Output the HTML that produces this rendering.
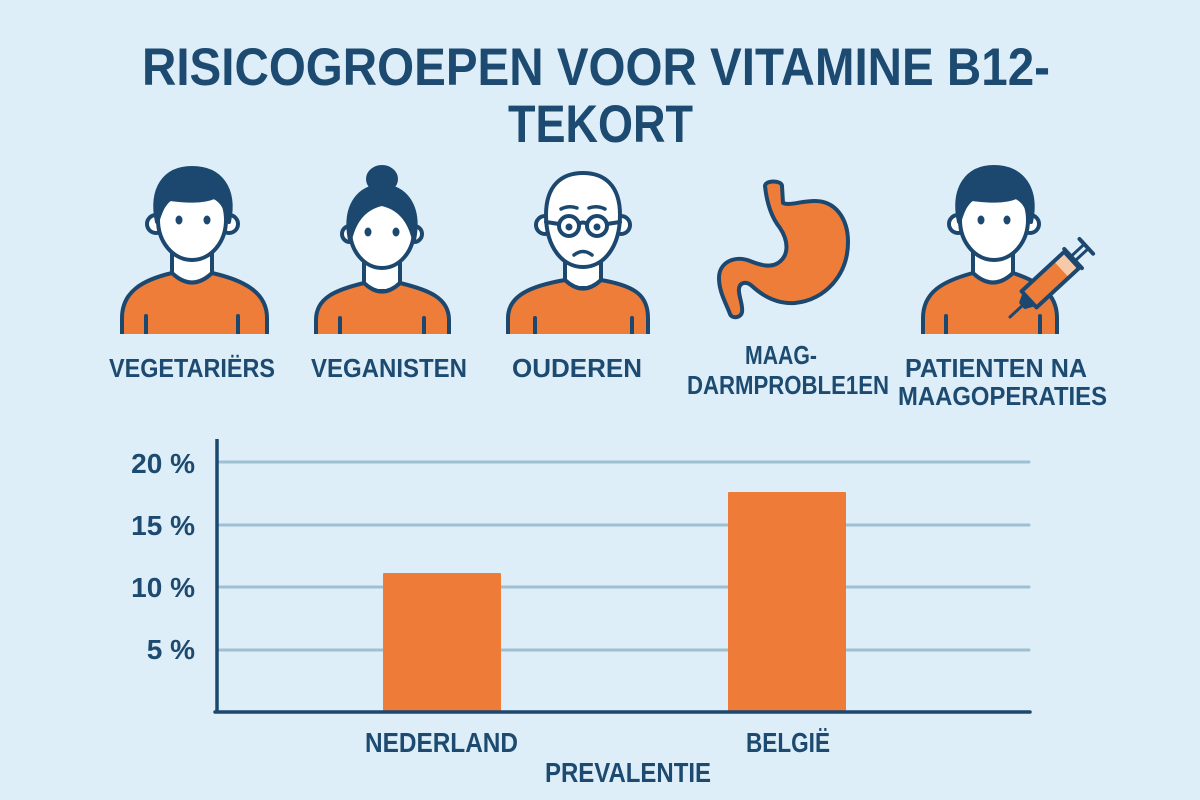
<!DOCTYPE html>
<html>
<head>
<meta charset="utf-8">
<style>
html,body{margin:0;padding:0;background:#ddeef8;}
svg{display:block;}
text{font-family:"Liberation Sans",sans-serif;font-weight:bold;fill:#1d4a70;}
</style>
</head>
<body>
<svg width="1200" height="800" viewBox="0 0 1200 800" xmlns="http://www.w3.org/2000/svg">
<rect x="0" y="0" width="1200" height="800" fill="#ddeef8"/>

<!-- Title -->
<text x="142" y="85" font-size="53" textLength="908" lengthAdjust="spacingAndGlyphs">RISICOGROEPEN VOOR VITAMINE B12-</text>
<text x="508" y="142" font-size="53" textLength="185" lengthAdjust="spacingAndGlyphs">TEKORT</text>

<g stroke="#1c4870" stroke-width="4" stroke-linejoin="round" stroke-linecap="round">
  <!-- Person 1 -->
  <rect x="172" y="248" width="40" height="36" fill="#fff"/>
  <path d="M122,338 L122,318 C122,292 142,280 172,273 Q192,292 212,273 C243,280 267,292 267,318 L267,338 Z" fill="#ee7d3a"/>
  <path d="M146,316 L146,334 M238,316 L238,334" fill="none"/>
  <circle cx="156" cy="224" r="9" fill="#fff"/>
  <circle cx="229" cy="224" r="9" fill="#fff"/>
  <ellipse cx="192" cy="220" rx="34" ry="40" fill="#fff"/>
  <path d="M157,222 C150,188 165,168 192,168 C220,168 236,188 229,222 C226,210 224,202 214,197 C200,203 180,200 170,199 C162,205 160,214 157,222 Z" fill="#1c4870"/>
  <ellipse cx="179" cy="220" rx="3.5" ry="4.5" fill="#1c4870" stroke="none"/>
  <ellipse cx="207" cy="220" rx="3.5" ry="4.5" fill="#1c4870" stroke="none"/>

  <!-- Woman -->
  <rect x="364" y="255" width="36" height="36" fill="#fff"/>
  <path d="M316,338 L316,320 C316,298 335,290 364,283 Q382,300 400,283 C429,290 449,298 449,320 L449,338 Z" fill="#ee7d3a"/>
  <path d="M340,318 L340,334 M424,318 L424,334" fill="none"/>
  <circle cx="350" cy="234" r="8" fill="#fff"/>
  <circle cx="414" cy="234" r="8" fill="#fff"/>
  <ellipse cx="382" cy="230" rx="32" ry="38" fill="#fff"/>
  <ellipse cx="382" cy="179" rx="14" ry="12" fill="#1c4870"/>
  <path d="M350,240 C343,205 360,186 382,186 C404,186 421,205 414,240 C410,222 400,208 382,204 C364,208 354,222 350,240 Z" fill="#1c4870"/>
  <ellipse cx="368" cy="232" rx="3.5" ry="4.5" fill="#1c4870" stroke="none"/>
  <ellipse cx="396" cy="232" rx="3.5" ry="4.5" fill="#1c4870" stroke="none"/>

  <!-- Elderly -->
  <rect x="565" y="252" width="36" height="36" fill="#fff"/>
  <path d="M508,338 L508,318 C508,296 530,286 565,280 Q583,297 601,280 C636,286 648,296 648,318 L648,338 Z" fill="#ee7d3a"/>
  <path d="M535,318 L535,334 M632,318 L632,334" fill="none"/>
  <circle cx="545" cy="225" r="9" fill="#fff"/>
  <circle cx="621" cy="225" r="9" fill="#fff"/>
  <path d="M546,215 C546,185 562,173 583,173 C604,173 620,185 620,215 C620,248 603,267 583,267 C563,267 546,248 546,215 Z" fill="#fff"/>
  <path d="M546,222 L559,224 M607,224 L620,222 M579,224 Q583,221 587,224" fill="none"/>
  <circle cx="569" cy="226" r="10" fill="#fff"/>
  <circle cx="597" cy="226" r="10" fill="#fff"/>
  <circle cx="569" cy="227" r="3.5" fill="#1c4870" stroke="none"/>
  <circle cx="597" cy="227" r="3.5" fill="#1c4870" stroke="none"/>
  <path d="M561,209 Q569,205 577,208 M589,208 Q597,205 605,209" fill="none" stroke-width="3.5"/>
  <path d="M574,255 Q583,248 592,255" fill="none" stroke-width="3.5"/>

  <!-- Stomach -->
  <path d="M765,186 C765,180 782,180 782,186 L783,203 C790,206 800,201 815,201 C835,201 848,218 848,242 C848,275 825,300 795,303 C780,304 765,298 752,286 C745,280 738,283 739,292 C740,300 743,306 742,312 C741,318 732,319 730,314 C726,303 719,292 719,278 C719,262 735,255 750,261 C760,265 770,268 778,263 C790,255 788,240 780,228 C772,218 767,205 765,186 Z" fill="#ee7d3a"/>

  <!-- Syringe person -->
  <rect x="973" y="248" width="40" height="36" fill="#fff"/>
  <path d="M923,338 L923,318 C923,292 943,281 973,273 Q993,292 1013,273 C1037,281 1057,292 1057,318 L1057,338 Z" fill="#ee7d3a"/>
  <path d="M946,316 L946,334 M1040,316 L1040,334" fill="none"/>
  <circle cx="958" cy="224" r="9" fill="#fff"/>
  <circle cx="1030" cy="224" r="9" fill="#fff"/>
  <ellipse cx="994" cy="220" rx="34" ry="40" fill="#fff"/>
  <path d="M959,222 C952,188 967,167 994,167 C1022,167 1038,188 1031,222 C1028,210 1026,202 1016,197 C1002,203 982,200 972,199 C964,205 962,214 959,222 Z" fill="#1c4870"/>
  <ellipse cx="981" cy="220" rx="3.5" ry="4.5" fill="#1c4870" stroke="none"/>
  <ellipse cx="1007" cy="220" rx="3.5" ry="4.5" fill="#1c4870" stroke="none"/>

  <!-- Syringe -->
  <g transform="translate(1010,317) rotate(-42.8)">
    <path d="M0,0 L18,0" fill="none" stroke-width="3"/>
    <path d="M18,-3 L26,-7 L26,7 L18,3 Z" fill="#1c4870"/>
    <rect x="26" y="-11" width="58" height="22" fill="#ee7d3a"/>
    <rect x="70" y="-9" width="12" height="18" fill="#f6c9a8" stroke="none"/>
    <path d="M86,-13 L86,13" fill="none"/>
    <path d="M86,-3 L103,-3 M86,3 L103,3" fill="none" stroke-width="3"/>
    <path d="M104,-10 L104,10" fill="none"/>
  </g>
</g>

<!-- cover bottom strokes of bodies -->
<rect x="0" y="334" width="1200" height="6" fill="#ddeef8"/>

<!-- Icon labels -->
<text x="109" y="377" font-size="26" textLength="166" lengthAdjust="spacingAndGlyphs">VEGETARIËRS</text>
<text x="311" y="377" font-size="26" textLength="156" lengthAdjust="spacingAndGlyphs">VEGANISTEN</text>
<text x="512" y="377" font-size="26" textLength="130" lengthAdjust="spacingAndGlyphs">OUDEREN</text>
<text x="745" y="364" font-size="26" textLength="72" lengthAdjust="spacingAndGlyphs">MAAG-</text>
<text x="687" y="394" font-size="26" textLength="202" lengthAdjust="spacingAndGlyphs">DARMPROBLE1EN</text>
<text x="905" y="377" font-size="26" textLength="182" lengthAdjust="spacingAndGlyphs">PATIENTEN NA</text>
<text x="898" y="405" font-size="26" textLength="209" lengthAdjust="spacingAndGlyphs">MAAGOPERATIES</text>

<!-- Chart gridlines -->
<g stroke="#9fc0d2" stroke-width="3" stroke-linecap="round">
  <line x1="219" y1="462" x2="1029" y2="462"/>
  <line x1="219" y1="525" x2="1029" y2="525"/>
  <line x1="219" y1="587" x2="1029" y2="587"/>
  <line x1="219" y1="650" x2="1029" y2="650"/>
</g>

<!-- Bars -->
<rect x="383" y="573" width="118" height="139" fill="#ee7b37" rx="1"/>
<rect x="728" y="492" width="118" height="220" fill="#ee7b37" rx="1"/>

<!-- Axes -->
<line x1="217" y1="439" x2="217" y2="713" stroke="#1c4870" stroke-width="3.5"/>
<line x1="215" y1="712" x2="1030" y2="712" stroke="#1c4870" stroke-width="3.5" stroke-linecap="round"/>

<!-- Y tick labels -->
<text x="195" y="473" font-size="28" text-anchor="end">20 %</text>
<text x="195" y="535" font-size="28" text-anchor="end">15 %</text>
<text x="195" y="597" font-size="28" text-anchor="end">10 %</text>
<text x="195" y="659" font-size="28" text-anchor="end">5 %</text>

<!-- X labels -->
<text x="365" y="752" font-size="28" textLength="153" lengthAdjust="spacingAndGlyphs">NEDERLAND</text>
<text x="746" y="752" font-size="28" textLength="84" lengthAdjust="spacingAndGlyphs">BELGIË</text>
<text x="545" y="782" font-size="28" textLength="166" lengthAdjust="spacingAndGlyphs">PREVALENTIE</text>
</svg>
</body>
</html>
